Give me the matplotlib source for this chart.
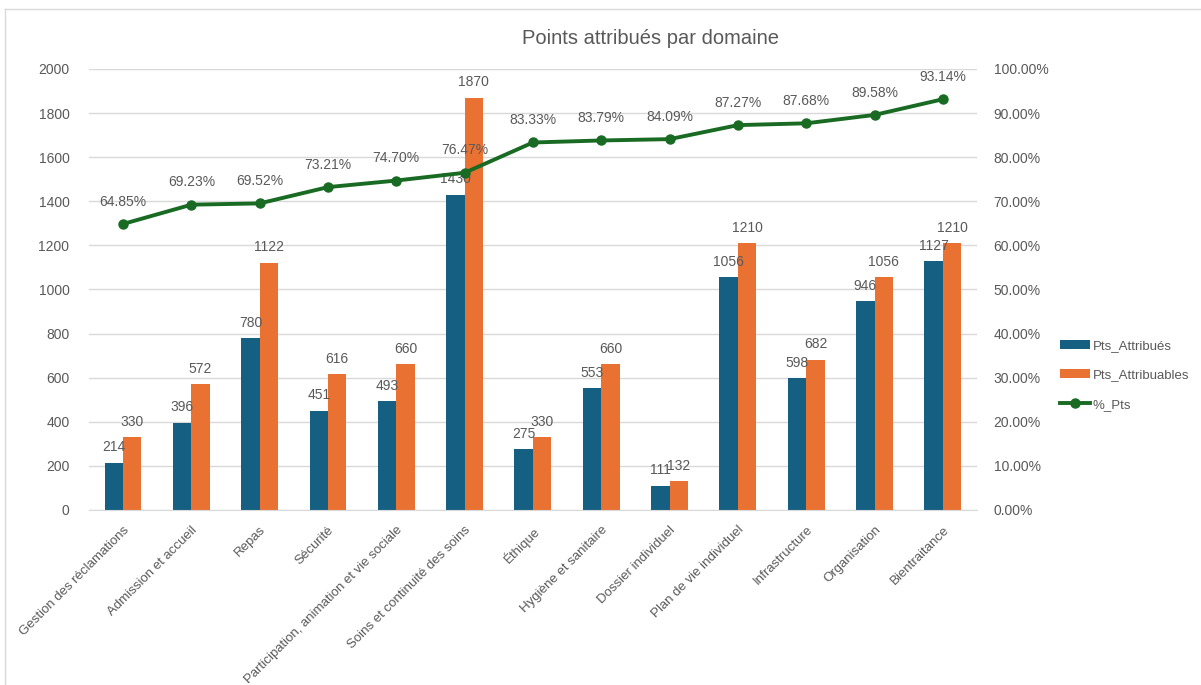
import matplotlib
matplotlib.use("Agg")
import matplotlib.pyplot as plt
from matplotlib.lines import Line2D
import numpy as np

plt.rcParams['font.family'] = ['Liberation Sans', 'DejaVu Sans']

# data
domaines = ["Gestion des réclamations", "Admission et accueil", "Repas", "Sécurité",
            "Participation, animation et vie sociale", "Soins et continuité des soins",
            "Éthique", "Hygiène et sanitaire", "Dossier individuel", "Plan de vie individuel",
            "Infrastructure", "Organisation", "Bientraitance"]
pts_attribues = [214, 396, 780, 451, 493, 1430, 275, 553, 111, 1056, 598, 946, 1127]
pts_attribuables = [330, 572, 1122, 616, 660, 1870, 330, 660, 132, 1210, 682, 1056, 1210]
pct_pts = [64.85, 69.23, 69.52, 73.21, 74.70, 76.47, 83.33, 83.79, 84.09, 87.27, 87.68, 89.58, 93.14]

BLUE = "#156082"
ORANGE = "#E97132"
GREEN = "#196B24"
GREY = "#595959"

fig = plt.figure(figsize=(12.01, 6.85), dpi=100)
ax = fig.add_axes([0.074, 0.2555, 0.7395, 0.6438])
ax2 = ax.twinx()

x = np.arange(len(domaines))
w = 0.27
b1 = ax.bar(x - w / 2, pts_attribues, w, color=BLUE, label="Pts_Attribués", zorder=2)
b2 = ax.bar(x + w / 2, pts_attribuables, w, color=ORANGE, label="Pts_Attribuables", zorder=2)

for rect, v in zip(b1, pts_attribues):
    ax.annotate(str(v), (rect.get_x() + rect.get_width() / 2, v), xytext=(0, 6),
                textcoords="offset points", ha="center", va="bottom", fontsize=10, color=GREY)
for rect, v in zip(b2, pts_attribuables):
    ax.annotate(str(v), (rect.get_x() + rect.get_width() / 2, v), xytext=(0, 6),
                textcoords="offset points", ha="center", va="bottom", fontsize=10, color=GREY)

ax.set_xlim(-0.5, len(domaines) - 0.5)
ax.set_ylim(0, 2000)
ax.set_yticks(range(0, 2001, 200))
ax.grid(axis="y", color="#D9D9D9", linewidth=1, zorder=0)
ax.set_axisbelow(True)
ax.set_xticks(x)
ax.set_xticklabels(domaines, rotation=45, ha="right", rotation_mode="anchor", fontsize=9.5, color=GREY)
ax.tick_params(axis="y", labelsize=10, labelcolor=GREY, length=0, pad=14)
ax.tick_params(axis="x", length=0, pad=10)
for s in ["top", "right", "left"]:
    ax.spines[s].set_visible(False)
ax.spines["bottom"].set_color("#D9D9D9")

ax2.plot(x, pct_pts, color=GREEN, linewidth=2.8, marker="o", markersize=6.5, zorder=3)
for xi, p in zip(x, pct_pts):
    ax2.annotate(f"{p:.2f}%", (xi, p), xytext=(0, 11), textcoords="offset points",
                 ha="center", va="bottom", fontsize=10, color=GREY)
ax2.set_ylim(0, 100)
ax2.set_yticks(range(0, 101, 10))
ax2.set_yticklabels([f"{t:.2f}%" for t in range(0, 101, 10)])
ax2.tick_params(axis="y", labelsize=10, labelcolor=GREY, length=0, pad=12)
for s in ["top", "right", "left", "bottom"]:
    ax2.spines[s].set_visible(False)

fig.text(650 / 1201, 1 - 38 / 685, "Points attribués par domaine", fontsize=14.5,
         color=GREY, ha="center", va="center")

handles = [b1, b2, Line2D([0], [0], color=GREEN, linewidth=2.8, marker="o", markersize=6.5)]
fig.legend(handles, ["Pts_Attribués", "Pts_Attribuables", "%_Pts"], loc="center left",
           bbox_to_anchor=(0.877, 0.452), frameon=False, fontsize=9.5, labelcolor=GREY,
           handlelength=2.3, labelspacing=1.3, handletextpad=0.2, borderpad=0)

# chart frame
fig.add_artist(Line2D([5 / 1201, 5 / 1201], [0, 1 - 9 / 685], color="#D9D9D9", linewidth=1))
fig.add_artist(Line2D([5 / 1201, 1], [1 - 9 / 685, 1 - 9 / 685], color="#D9D9D9", linewidth=1))

fig.savefig("out.png", dpi=100)
